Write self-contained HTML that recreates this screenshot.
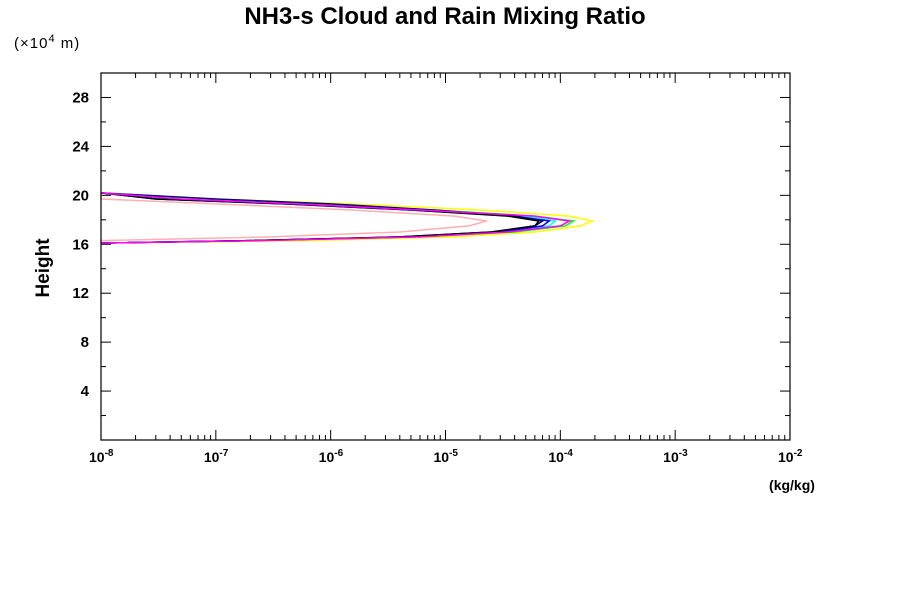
<!DOCTYPE html>
<html><head><meta charset="utf-8"><style>
body{margin:0;background:#fff;}
svg text{font-family:"Liberation Sans",sans-serif;}
</style></head><body>
<svg width="900" height="600">
<text x="445" y="24" text-anchor="middle" font-size="24" font-weight="bold">NH3-s Cloud and Rain Mixing Ratio</text>
<text x="14" y="48" font-size="15" letter-spacing="1">(×10<tspan dy="-6" font-size="11">4</tspan><tspan dy="6"> m)</tspan></text>
<text x="0" y="0" transform="translate(49,268) rotate(-90)" text-anchor="middle" font-size="19" font-weight="bold">Height</text>
<text x="792" y="490" text-anchor="middle" font-size="14" font-weight="bold">(kg/kg)</text>
<g id="axes"></g>
<g id="series"></g>
<rect x="101" y="73" width="689" height="367" fill="none" stroke="#000" stroke-width="1.2"/>
</svg>
<script>
const yTicks=[4,8,12,16,20,24,28];
const xDecades=[-8,-7,-6,-5,-4,-3,-2];
const heights=[16.1,16.3,16.6,17.0,17.5,17.9,18.3,18.8,19.3,19.7,20.2];
const seriesNames=['pink','yellow','green','cyan','blue','navy','black','magenta'];
const seriesColors=['#ffb0b0','#ffff00','#00ff00','#00ffff','#0000ff','#000080','#000000','#ff00ff'];
const valPink=[1e-8,1e-8,3e-7,4e-6,1.6e-5,2.3e-5,1.2e-5,1.5e-6,1e-7,1e-8,1e-8];
const valYellow=[1e-8,6e-7,1.2e-5,6e-5,1.5e-4,1.9e-4,1.2e-4,2e-5,1.5e-6,1e-7,1e-8];
const valGreen=[1e-8,2e-7,6e-6,4e-5,1.1e-4,1.3e-4,6e-5,8e-6,5e-7,4e-8,1e-8];
const valCyan=[1e-8,2e-7,5e-6,3e-5,8e-5,9e-5,5e-5,6e-6,4e-7,3e-8,1e-8];
const valBlue=[1e-8,2e-7,5e-6,3e-5,7e-5,8e-5,4e-5,5e-6,4e-7,3e-8,1e-8];
const valNavy=[1e-8,2e-7,4e-6,2.5e-5,6e-5,7e-5,4e-5,8e-6,1e-6,1e-7,1e-8];
const valBlack=[1e-8,2e-7,4e-6,2.5e-5,6e-5,6.5e-5,3.5e-5,5e-6,4e-7,3e-8,1e-8];
const valMagenta=[1e-8,2.5e-7,6e-6,3.5e-5,1e-4,1.2e-4,6e-5,6e-6,5e-7,5e-8,1e-8];
const allVals=[valPink,valYellow,valGreen,valCyan,valBlue,valNavy,valBlack,valMagenta];
const X0=101,X1=790,Y0=440,Y1=73,YMAX=30,LMIN=-8,LMAX=-2;
function sx(v){return X0+(Math.log10(v)-LMIN)/(LMAX-LMIN)*(X1-X0);}
function sy(h){return Y0-h/YMAX*(Y0-Y1);}
const NS='http://www.w3.org/2000/svg';
const ax=document.getElementById('axes');
function mk(t,a){const e=document.createElementNS(NS,t);for(const k in a)e.setAttribute(k,a[k]);return e;}
for(let h=2;h<30;h+=2){const y=sy(h);const len=h%4===0?10:5;
 const t=mk('line',{x1:X0,x2:X0+len,y1:y,y2:y,stroke:'#000'});
 
 
 ax.appendChild(t);
 const t2=mk('line',{x1:X1,x2:X1-len,y1:y,y2:y,stroke:'#000'});
 
 
 ax.appendChild(t2);}
yTicks.forEach(v=>{const l=mk('text',{x:89,y:sy(v)+5,'text-anchor':'end','font-size':15,'font-weight':'bold'});l.textContent=v;
 
 
 ax.appendChild(l);});
xDecades.forEach((d,i)=>{
 const x=sx(Math.pow(10,d));
 const l=mk('text',{x:x-12,y:462,'font-size':14,'font-weight':'bold'});l.innerHTML='10<tspan dy="-6" font-size="10">'+d+'</tspan>';
 
 
 ax.appendChild(l);
 const t=mk('line',{x1:x,x2:x,y1:Y0,y2:Y0-10,stroke:'#000'});
 
 
 ax.appendChild(t);
 const tt=mk('line',{x1:x,x2:x,y1:Y1,y2:Y1+10,stroke:'#000'});
 
 
 ax.appendChild(tt);
 if(i<xDecades.length-1)for(let m=2;m<10;m++){const xm=sx(m*Math.pow(10,d));
  const a=mk('line',{x1:xm,x2:xm,y1:Y0,y2:Y0-5,stroke:'#000'});
  
  
  ax.appendChild(a);
  const b=mk('line',{x1:xm,x2:xm,y1:Y1,y2:Y1+5,stroke:'#000'});
  
  
  ax.appendChild(b);}
});
const sg=document.getElementById('series');
allVals.forEach((vals,i)=>{
 const pts=vals.map((v,j)=>sx(v).toFixed(1)+','+sy(heights[j]).toFixed(1)).join(' ');
 const p=mk('polyline',{points:pts,fill:'none',stroke:seriesColors[i],'stroke-width':1.5});
 
 
 sg.appendChild(p);
});
</script>
</body></html>
